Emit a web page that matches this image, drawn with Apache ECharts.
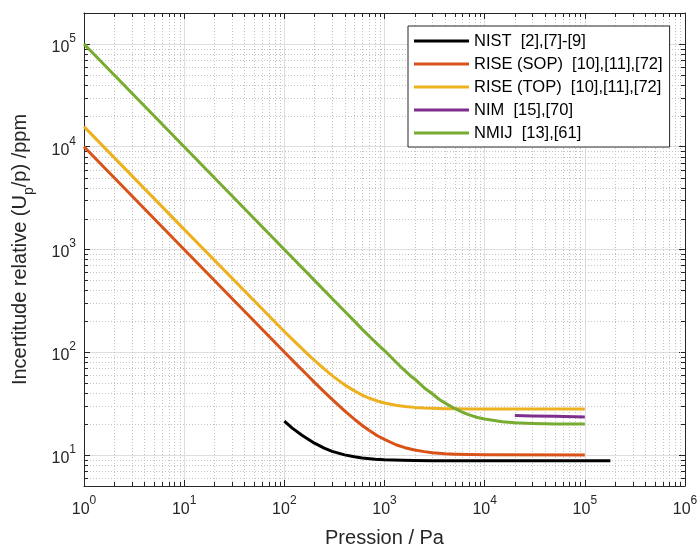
<!DOCTYPE html>
<html><head><meta charset="utf-8">
<script src="https://cdn.jsdelivr.net/npm/echarts@6/dist/echarts.min.js"></script>
<style>html,body{margin:0;padding:0;background:#fff}#c{width:700px;height:547px}</style>
</head><body><div id="c"></div>
<script>
// ---- data ----
const seriesNames = ['NIST  [2],[7]-[9]', 'RISE (SOP)  [10],[11],[72]', 'RISE (TOP)  [10],[11],[72]', 'NIM  [15],[70]', 'NMIJ  [13],[61]'];
const seriesColors = ['#000000', '#D95319', '#EDB120', '#7E2F8E', '#77AC30'];

const pNIST = [100, 120, 150, 200, 250, 300, 400, 500, 600, 800, 1000, 1500, 2000, 3000, 5000, 10000, 100000, 180000];
const uNIST = [21.4, 18.3, 15.6, 13.06, 11.7, 10.87, 10.04, 9.62, 9.37, 9.12, 9.0, 8.89, 8.85, 8.82, 8.8, 8.8, 8.8, 8.8];

const pSOP = [1, 10, 100, 130, 170, 200, 250, 300, 400, 500, 600, 700, 850, 1000, 1300, 1600, 2000, 2500, 3000, 4000, 5000, 7000, 10000, 100000];
const uSOP = [10000, 1000, 100.5, 77.6, 59.7, 51.0, 41.2, 34.8, 26.9, 22.4, 19.4, 17.4, 15.4, 14.2, 12.6, 11.8, 11.2, 10.8, 10.54, 10.3, 10.2, 10.1, 10.05, 10];

const pTOP = [1, 10, 100, 130, 170, 200, 250, 300, 400, 500, 600, 700, 850, 1000, 1300, 1600, 2000, 2500, 3000, 4000, 5000, 7000, 10000, 100000];
const uTOP = [15700, 1570, 159.5, 124, 96.5, 83.3, 68.8, 59.3, 48.2, 42.1, 38.3, 35.9, 33.6, 32.1, 30.5, 29.7, 29.1, 28.7, 28.5, 28.3, 28.2, 28.1, 28.05, 28];

const pNIM = [20000, 30000, 50000, 100000];
const uNIM = [24.2, 24.0, 23.8, 23.5];

const pNMIJ = [1, 10, 100, 200, 300, 400, 500, 600, 700, 850, 1000, 1200, 1500, 1800, 2000, 2500, 3000, 3500, 4000, 5000, 6000, 7000, 8500, 10000, 15000, 20000, 30000, 50000, 100000];
const uNMIJ = [100000, 10000, 1000, 500.4, 334, 250.8, 201, 167, 144, 120, 104, 87, 70, 59.5, 55, 45, 39.5, 34.9, 32.2, 28.4, 26.1, 24.6, 23.2, 22.4, 21.1, 20.6, 20.3, 20.1, 20];

const xLimits = [1, 1e6];
const yLimits = [5, 2e5];
const xTitle = 'Pression / Pa';

// ---- build ----
const allP = [pNIST, pSOP, pTOP, pNIM, pNMIJ];
const allU = [uNIST, uSOP, uTOP, uNIM, uNMIJ];
const zip = (a, b) => a.map((v, i) => [v, b[i]]);

const FONT = '"Liberation Sans", Arial, Helvetica, sans-serif';
const AX = '#262626';

// minor (2..9 x 10^n) decoration positions
const minorX = [];
for (let e = 0; e < 6; e++) for (let k = 2; k <= 9; k++) minorX.push(k * Math.pow(10, e));
const minorY = [];
for (let e = 0; e < 6; e++) for (let k = 2; k <= 9; k++) {
  const v = k * Math.pow(10, e);
  if (v > yLimits[0] && v < yLimits[1]) minorY.push(v);
}

const px = v => Math.round(v) + 0.5;

function expLabel(v) {
  const e = Math.round(Math.log10(v));
  return '{b|10}{s|' + e + '}';
}
const labelRich = {
  b: { fontSize: 16, fontFamily: FONT, color: AX, verticalAlign: 'bottom' },
  s: { fontSize: 12, fontFamily: FONT, color: AX, verticalAlign: 'top', padding: [0, 0, 11, 0] }
};

const lineSeries = seriesNames.map((name, i) => ({
  name: name,
  type: 'line',
  data: zip(allP[i], allU[i]),
  symbol: 'none',
  showSymbol: false,
  smooth: false,
  z: 3,
  lineStyle: { color: seriesColors[i], width: 3, join: 'round' },
  itemStyle: { color: seriesColors[i] },
  emphasis: { disabled: true }
}));

const decoX = {
  type: 'custom', silent: true, z: 1,
  data: minorX.map(v => [v, yLimits[0]]),
  encode: { x: 0, y: 1 },
  renderItem: (params, api) => {
    const x = api.value(0);
    const t = api.coord([x, yLimits[1]]), b = api.coord([x, yLimits[0]]);
    const X = px(t[0]);
    return { type: 'group', children: [
      { type: 'line', shape: { x1: X, y1: t[1], x2: X, y2: b[1] }, style: { stroke: '#c4c4c4', lineWidth: 1, lineDash: [1, 2] } },
      { type: 'line', shape: { x1: X, y1: b[1], x2: X, y2: b[1] - 4 }, style: { stroke: AX, lineWidth: 1 } },
      { type: 'line', shape: { x1: X, y1: t[1], x2: X, y2: t[1] + 4 }, style: { stroke: AX, lineWidth: 1 } }
    ] };
  }
};
const decoY = {
  type: 'custom', silent: true, z: 1,
  data: minorY.map(v => [xLimits[0], v]),
  encode: { x: 0, y: 1 },
  renderItem: (params, api) => {
    const y = api.value(1);
    const l = api.coord([xLimits[0], y]), r = api.coord([xLimits[1], y]);
    const Y = px(l[1]);
    return { type: 'group', children: [
      { type: 'line', shape: { x1: l[0], y1: Y, x2: r[0], y2: Y }, style: { stroke: '#c4c4c4', lineWidth: 1, lineDash: [1, 2] } },
      { type: 'line', shape: { x1: l[0], y1: Y, x2: l[0] + 4, y2: Y }, style: { stroke: AX, lineWidth: 1 } },
      { type: 'line', shape: { x1: r[0], y1: Y, x2: r[0] - 4, y2: Y }, style: { stroke: AX, lineWidth: 1 } }
    ] };
  }
};

const axisCommon = {
  type: 'log', logBase: 10,
  axisLine: { show: true, lineStyle: { color: AX, width: 1 } },
  axisTick: { show: true, inside: true, length: 6, lineStyle: { color: AX, width: 1 } },
  minorTick: { show: false },
  minorSplitLine: { show: false }
};

const chart = echarts.init(document.getElementById('c'), null, { renderer: 'canvas' });
chart.setOption({
  animation: false,
  backgroundColor: '#ffffff',
  grid: { left: 84, right: 15, top: 13, bottom: 61, containLabel: false, outerBoundsMode: 'none' },
  legend: {
    orient: 'vertical', left: 408, top: 26,
    padding: [6, 7, 5, 6],
    itemWidth: 55, itemHeight: 3, itemGap: 5,
    icon: 'rect',
    textStyle: { fontSize: 16.5, fontFamily: FONT, color: '#000', lineHeight: 18 },
    borderColor: AX, borderWidth: 1, borderRadius: 0,
    backgroundColor: '#ffffff',
    data: seriesNames
  },
  xAxis: [
    Object.assign({}, axisCommon, {
      position: 'bottom', min: xLimits[0], max: xLimits[1],
      name: xTitle, nameLocation: 'middle', nameGap: 42,
      nameTextStyle: { fontSize: 20, fontFamily: FONT, color: AX },
      axisLabel: { formatter: expLabel, rich: labelRich, margin: 9 },
      splitLine: { show: true, lineStyle: { color: '#dedede', width: 1 } }
    }),
    Object.assign({}, axisCommon, {
      position: 'top', min: xLimits[0], max: xLimits[1],
      axisLabel: { show: false }, splitLine: { show: false }
    })
  ],
  yAxis: [
    Object.assign({}, axisCommon, {
      position: 'left', min: yLimits[0], max: yLimits[1],
      name: '{m|Incertitude relative (U}{sub|p}{m|/p) /ppm}',
      nameLocation: 'middle', nameGap: 48, nameRotate: 90,
      nameTextStyle: {
        rich: {
          m: { fontSize: 20, fontFamily: FONT, color: AX, verticalAlign: 'top' },
          sub: { fontSize: 14, fontFamily: FONT, color: AX, verticalAlign: 'bottom', padding: [12, 0, 0, 0] }
        }
      },
      axisLabel: { formatter: expLabel, rich: labelRich, margin: 8, showMinLabel: false, showMaxLabel: false },
      splitLine: { show: true, lineStyle: { color: '#dedede', width: 1 } }
    }),
    Object.assign({}, axisCommon, {
      position: 'right', min: yLimits[0], max: yLimits[1],
      axisLabel: { show: false }, splitLine: { show: false }
    })
  ],
  series: [decoX, decoY].concat(lineSeries)
});
</script>
</body></html>
